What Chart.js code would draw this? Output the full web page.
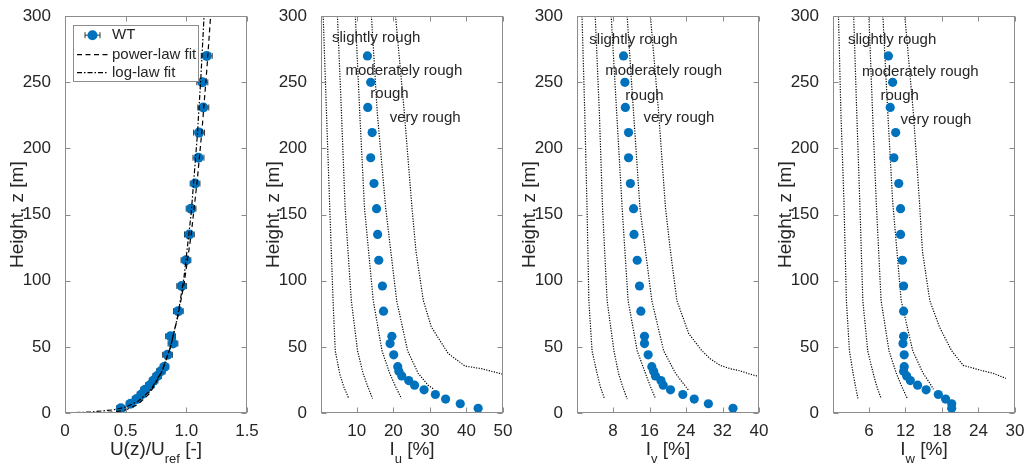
<!DOCTYPE html>
<html>
<head>
<meta charset="utf-8">
<script src="https://cdn.jsdelivr.net/npm/chart.js@4.4.1/dist/chart.umd.min.js"></script>
<style>
  body { margin: 0; background: #fff; }
  #wrap { position: relative; width: 1027px; height: 471px; overflow: hidden; }
  canvas { position: absolute; top: 0; }
</style>
</head>
<body>
<div id="wrap">
  <canvas id="cU" width="261" height="471" style="left:0px"></canvas>
  <canvas id="cIu" width="261" height="471" style="left:256px"></canvas>
  <canvas id="cIv" width="261" height="471" style="left:512px"></canvas>
  <canvas id="cIw" width="261" height="471" style="left:768px"></canvas>
</div>
<script>
const FONT = '"Liberation Sans", Arial, Helvetica, sans-serif';
const TXT = "#262626";
const BLUE = "#0072BD";

// measurement heights [m]
const heights = [3.5, 7, 10.5, 14, 17.5, 21, 24.5, 28, 31.5, 35, 44, 52.5, 58, 77, 96, 115.5, 135, 154.5, 173.5, 193, 212, 231, 250, 270];

// mean velocity U(z)/Uref and error bar half width
const uMean = [0.46, 0.54, 0.59, 0.63, 0.66, 0.70, 0.73, 0.76, 0.79, 0.82, 0.845, 0.89, 0.87, 0.934, 0.962, 0.997, 1.025, 1.039, 1.072, 1.10, 1.105, 1.14, 1.132, 1.168];
const uErr = [0.035, 0.035, 0.035, 0.035, 0.035, 0.035, 0.035, 0.035, 0.035, 0.035, 0.04, 0.04, 0.04, 0.04, 0.04, 0.04, 0.04, 0.04, 0.04, 0.045, 0.045, 0.045, 0.045, 0.045];

// turbulence intensities [%]
const iu = [43.2, 38.3, 34.3, 31.5, 28.4, 25.8, 24.2, 22.3, 21.5, 21.2, 20.1, 19.1, 19.6, 17.3, 17.0, 16.0, 15.7, 15.4, 14.7, 13.8, 14.2, 13.0, 13.8, 12.9];
const iv = [34.3, 28.9, 25.8, 23.3, 20.6, 19.0, 18.5, 17.3, 16.9, 16.5, 15.7, 14.9, 14.9, 14.1, 13.8, 13.3, 12.6, 12.5, 11.8, 11.4, 11.4, 10.7, 10.6, 10.3];
const iw = [19.6, 19.6, 18.6, 17.4, 15.4, 14.0, 12.8, 12.2, 11.7, 11.8, 11.8, 11.6, 11.7, 11.7, 11.7, 11.5, 11.2, 11.2, 10.9, 10.1, 10.4, 9.5, 9.9, 9.2];

// fits [U, z]
const powerLaw = [[0, 0], [0.12, 0.002], [0.19, 0.01], [0.28, 0.1], [0.4, 0.7], [0.5, 2.3], [0.6, 6.4], [0.7, 15], [0.8, 31.5], [0.87, 50], [0.93, 73], [0.98, 97], [1.04, 135], [1.09, 176], [1.13, 215], [1.17, 261], [1.2, 300]];
const logLaw = [[0, 0.18], [0.2, 0.65], [0.4, 2.4], [0.5, 4.5], [0.6, 8.7], [0.7, 16.6], [0.8, 31.7], [0.87, 50], [0.93, 73.7], [0.98, 102], [1.04, 151], [1.09, 209], [1.12, 254], [1.146, 300]];

// terrain category reference curves [I, z]
const iuRef = [
  [[0.8, 300], [1.7, 227], [2.6, 155], [3.5, 85], [4.1, 47], [5.3, 30], [6.4, 20], [7.8, 11]],
  [[4.7, 300], [5.8, 227], [6.8, 155], [8.5, 85], [10.2, 47], [11.7, 30], [13.0, 20], [14.3, 11]],
  [[9.6, 300], [10.8, 227], [12.1, 155], [14.5, 85], [16.9, 47], [19.0, 30], [20.6, 20], [22.2, 11]],
  [[14.0, 300], [15.6, 227], [17.9, 155], [20.9, 85], [23.9, 47], [26.8, 30], [29.5, 21], [31.2, 17.8]],
  [[20.6, 300], [23.0, 227], [25.1, 155], [26.2, 122], [28.2, 85], [30.4, 65], [32.7, 55], [35.0, 45], [39.6, 35.5], [44.1, 33.5], [50, 29.3]]
];
const ivRef = [
  [[1.2, 300], [1.8, 227], [2.3, 155], [2.7, 85], [3.4, 47], [4.5, 30], [5.2, 20], [6.1, 11]],
  [[4.1, 300], [5.0, 227], [5.7, 155], [6.7, 85], [8.2, 47], [9.2, 30], [10.1, 20], [11.1, 10.5]],
  [[7.6, 300], [8.8, 227], [10.0, 155], [11.3, 85], [13.3, 47], [15.1, 30], [16.2, 20], [17.3, 11]],
  [[11.1, 300], [12.5, 227], [13.9, 155], [16.5, 85], [19.1, 47], [21.7, 30], [22.8, 25], [24.5, 17.5]],
  [[16.2, 300], [18.0, 227], [19.5, 155], [20.6, 122], [22.0, 85], [24.6, 60], [27.5, 47], [29.3, 41], [31.5, 36], [33.7, 33.5], [35.9, 31.8], [37.7, 29.8], [39.8, 27.7]]
];
const iwRef = [
  [[1.0, 300], [1.4, 227], [1.9, 160], [2.3, 85], [2.8, 47], [3.4, 30], [3.8, 20], [4.2, 11]],
  [[3.5, 300], [4.0, 227], [4.5, 160], [5.0, 85], [5.8, 47], [6.7, 30], [7.3, 20], [8.0, 11]],
  [[6.0, 300], [6.6, 227], [7.2, 160], [8.0, 85], [9.3, 47], [10.5, 30], [11.4, 20], [12.3, 11]],
  [[8.3, 300], [9.1, 227], [9.9, 160], [11.3, 85], [13.2, 47], [14.9, 30], [15.8, 24], [16.6, 18]],
  [[11.9, 300], [13.3, 227], [14.3, 160], [14.8, 122], [16.0, 85], [17.6, 65], [18.7, 55], [19.6, 47], [21.5, 36], [24.2, 32.5], [26.4, 30], [28.5, 26.2]]
];

const zTicks = [0, 50, 100, 150, 200, 250, 300];
const uTicks = [0, 0.5, 1, 1.5];
const iuTicks = [10, 20, 30, 40, 50];
const ivTicks = [8, 16, 24, 32, 40];
const iwTicks = [6, 12, 18, 24, 30];

const roughLabels = ["slightly rough", "moderately rough", "rough", "very rough"];

const pts = (xs, zs) => xs.map((v, i) => ({ x: v, y: zs[i] }));
const pairs = (arr) => arr.map(([x, z]) => ({ x: x, y: z }));

// box with inward ticks, like matlab
const frame = {
  id: "frame",
  afterDraw(chart) {
    const { ctx, chartArea: a, scales } = chart;
    const L = Math.round(a.left) + 0.5, R = Math.round(a.right) - 0.5;
    const T = Math.round(a.top) + 0.5, B = Math.round(a.bottom) - 0.5;
    ctx.save();
    ctx.strokeStyle = "#8c8c8c";
    ctx.lineWidth = 1;
    ctx.strokeRect(L, T, R - L, B - T);
    ctx.beginPath();
    scales.x.ticks.forEach((t) => {
      const px = Math.round(scales.x.getPixelForValue(t.value)) + 0.5;
      ctx.moveTo(px, B); ctx.lineTo(px, B - 5);
      ctx.moveTo(px, T); ctx.lineTo(px, T + 5);
    });
    scales.y.ticks.forEach((t) => {
      const py = Math.round(scales.y.getPixelForValue(t.value)) + 0.5;
      ctx.moveTo(L, py); ctx.lineTo(L + 5, py);
      ctx.moveTo(R, py); ctx.lineTo(R - 5, py);
    });
    ctx.stroke();
    ctx.restore();
  },
};

// axis titles (with subscripts)
const titles = {
  id: "titles",
  afterDraw(chart, args, o) {
    const { ctx, chartArea: a } = chart;
    ctx.save();
    ctx.fillStyle = TXT;
    ctx.textBaseline = "alphabetic";
    ctx.textAlign = "left";
    let w = 0;
    o.x.forEach((p) => {
      ctx.font = (p[1] ? 13 : 19) + "px " + FONT;
      w += ctx.measureText(p[0]).width;
    });
    let x = (a.left + a.right) / 2 - w / 2;
    o.x.forEach((p) => {
      ctx.font = (p[1] ? 13 : 19) + "px " + FONT;
      ctx.fillText(p[0], x, a.bottom + (p[1] ? 50 : 42));
      x += ctx.measureText(p[0]).width;
    });
    ctx.translate(a.left - 47, (a.top + a.bottom) / 2);
    ctx.rotate(-Math.PI / 2);
    ctx.textAlign = "center";
    ctx.textBaseline = "middle";
    ctx.font = "19px " + FONT;
    ctx.fillText(o.y, 0, 0);
    ctx.restore();
  },
};

const notes = {
  id: "notes",
  afterDatasetsDraw(chart, args, o) {
    if (!o.items) return;
    const { ctx, scales } = chart;
    ctx.save();
    ctx.fillStyle = TXT;
    ctx.font = "15px " + FONT;
    ctx.textAlign = "left";
    ctx.textBaseline = "middle";
    o.items.forEach((it, i) => {
      ctx.fillText(roughLabels[i], scales.x.getPixelForValue(it[0]), scales.y.getPixelForValue(it[1]));
    });
    ctx.restore();
  },
};

const errBars = {
  id: "errBars",
  beforeDatasetsDraw(chart) {
    const { ctx, scales } = chart;
    ctx.save();
    ctx.strokeStyle = "#333";
    ctx.lineWidth = 1;
    ctx.beginPath();
    heights.forEach((z, i) => {
      const y = scales.y.getPixelForValue(z);
      const x0 = scales.x.getPixelForValue(uMean[i] - uErr[i]);
      const x1 = scales.x.getPixelForValue(uMean[i] + uErr[i]);
      ctx.moveTo(x0, y); ctx.lineTo(x1, y);
      ctx.moveTo(x0, y - 3); ctx.lineTo(x0, y + 3);
      ctx.moveTo(x1, y - 3); ctx.lineTo(x1, y + 3);
    });
    ctx.stroke();
    ctx.restore();
  },
};

const fitLegend = {
  id: "fitLegend",
  afterDraw(chart) {
    const { ctx, chartArea: a } = chart;
    const bx = a.left + 8, by = a.top + 9;
    ctx.save();
    ctx.fillStyle = "#fff";
    ctx.fillRect(bx, by, 125, 56);
    ctx.strokeStyle = "#8c8c8c";
    ctx.lineWidth = 1;
    ctx.strokeRect(Math.round(bx) + 0.5, Math.round(by) + 0.5, 125, 56);
    const rows = [by + 10, by + 29.5, by + 47.5];
    // WT
    ctx.strokeStyle = "#333";
    ctx.beginPath();
    ctx.moveTo(bx + 12, rows[0]); ctx.lineTo(bx + 27, rows[0]);
    ctx.moveTo(bx + 12, rows[0] - 3); ctx.lineTo(bx + 12, rows[0] + 3);
    ctx.moveTo(bx + 27, rows[0] - 3); ctx.lineTo(bx + 27, rows[0] + 3);
    ctx.stroke();
    ctx.fillStyle = BLUE;
    ctx.beginPath();
    ctx.arc(bx + 19.5, rows[0], 5, 0, Math.PI * 2);
    ctx.fill();
    ctx.strokeStyle = "#000";
    ctx.lineWidth = 1.2;
    ctx.setLineDash([5, 3.5]);
    ctx.beginPath();
    ctx.moveTo(bx + 4, rows[1]); ctx.lineTo(bx + 35, rows[1]);
    ctx.stroke();
    ctx.setLineDash([5, 2, 1.5, 2]);
    ctx.beginPath();
    ctx.moveTo(bx + 4, rows[2]); ctx.lineTo(bx + 35, rows[2]);
    ctx.stroke();
    ctx.setLineDash([]);
    ctx.fillStyle = TXT;
    ctx.font = "15px " + FONT;
    ctx.textBaseline = "middle";
    ctx.fillText("WT", bx + 39, rows[0]);
    ctx.fillText("power-law fit", bx + 39, rows[1]);
    ctx.fillText("log-law fit", bx + 39, rows[2]);
    ctx.restore();
  },
};

function scalesFor(xMin, xMax, xTicks) {
  const tickFont = { family: FONT, size: 17 };
  return {
    x: {
      type: "linear", min: xMin, max: xMax,
      afterBuildTicks: (s) => { s.ticks = xTicks.map((v) => ({ value: v })); },
      afterFit: (s) => { s.height = 58; },
      grid: { display: false }, border: { display: false },
      ticks: { padding: 0, color: TXT, font: tickFont, maxRotation: 0 },
    },
    y: {
      type: "linear", min: 0, max: 300,
      afterBuildTicks: (s) => { s.ticks = zTicks.map((v) => ({ value: v })); },
      afterFit: (s) => { s.width = 65; },
      grid: { display: false }, border: { display: false },
      ticks: { padding: 6, color: TXT, font: tickFont },
    },
  };
}

function baseOptions(xMin, xMax, xTicks, xTitle, noteItems) {
  return {
    responsive: false,
    animation: false,
    layout: { padding: { top: 13, right: 14, left: 0, bottom: 0 } },
    scales: scalesFor(xMin, xMax, xTicks),
    plugins: {
      legend: { display: false },
      tooltip: { enabled: false },
      titles: { x: xTitle, y: "Height, z [m]" },
      notes: { items: noteItems },
    },
  };
}

// velocity profile
new Chart(document.getElementById("cU"), {
  type: "scatter",
  data: {
    datasets: [
      { label: "power-law fit", data: pairs(powerLaw), showLine: true, borderColor: "#000", borderWidth: 1.2, borderDash: [5, 3.5], pointRadius: 0, order: 1 },
      { label: "log-law fit", data: pairs(logLaw), showLine: true, borderColor: "#000", borderWidth: 1.2, borderDash: [5, 2, 1.5, 2], pointRadius: 0, order: 1 },
      { label: "WT", data: pts(uMean, heights), pointRadius: 5, backgroundColor: BLUE, borderColor: BLUE, borderWidth: 0, order: 2 },
    ],
  },
  options: baseOptions(0, 1.5, uTicks, [["U(z)/U", false], ["ref", true], [" [-]", false]], null),
  plugins: [errBars, frame, titles, fitLegend],
});

function intensityChart(id, values, refs, xMin, xMax, xTicks, sub, noteItems) {
  const datasets = refs.map((c, i) => ({
    label: "ref" + i, data: pairs(c), showLine: true, borderColor: "#000", borderWidth: 1.2,
    borderDash: [1.2, 1.4], pointRadius: 0, order: 1,
  }));
  datasets.push({ label: "WT", data: pts(values, heights), pointRadius: 4.6, backgroundColor: BLUE, borderColor: BLUE, borderWidth: 0, order: 0 });
  new Chart(document.getElementById(id), {
    type: "scatter",
    data: { datasets: datasets },
    options: baseOptions(xMin, xMax, xTicks, [["I", false], [sub, true], [" [%]", false]], noteItems),
    plugins: [frame, titles, notes],
  });
}

intensityChart("cIu", iu, iuRef, 0.2, 50, iuTicks, "u", [[3.2, 283.5], [6.9, 259], [13.7, 241.5], [19.0, 223]]);
intensityChart("cIv", iv, ivRef, 0.1, 40, ivTicks, "v", [[2.8, 282], [6.3, 258.5], [10.7, 240], [14.7, 223]]);
intensityChart("cIw", iw, iwRef, 0.1, 30, iwTicks, "w", [[2.55, 282], [4.85, 258], [7.9, 240], [11.2, 222]]);
</script>
</body>
</html>
